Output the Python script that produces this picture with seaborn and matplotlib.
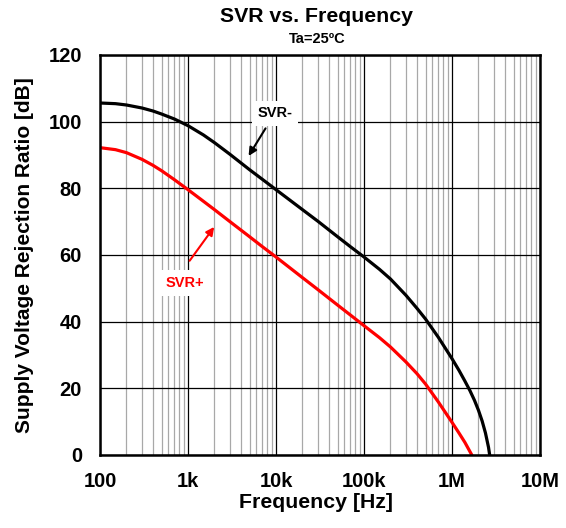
import pandas as pd
import seaborn as sns
import matplotlib.pyplot as plt
import numpy as np
from matplotlib.ticker import FixedLocator, NullFormatter

# data
svr_minus_freq = [100, 150, 200, 300, 400, 500, 700, 1e3, 1.5e3, 2e3, 3e3, 5e3, 7e3,
                  1e4, 2e4, 3e4, 5e4, 7e4, 1e5, 1.5e5, 2e5, 3e5, 4e5, 5e5, 7e5,
                  1e6, 1.2e6, 1.4e6, 1.6e6, 1.8e6, 2e6, 2.2e6, 2.4e6, 2.6e6, 2.68e6]
svr_minus_db = [105.6, 105.4, 105.0, 104.1, 103.2, 102.3, 100.8, 98.8, 96.0, 93.7, 90.2,
                85.6, 82.7, 79.6, 73.6, 70.1, 65.5, 62.5, 59.4, 55.7, 52.8, 47.9, 44.0,
                40.8, 35.3, 28.9, 25.4, 22.2, 19.3, 16.4, 13.4, 10.2, 6.6, 2.3, 0.0]
svr_plus_freq = [100, 150, 200, 300, 400, 500, 700, 1e3, 1.5e3, 2e3, 3e3, 5e3, 7e3,
                 1e4, 2e4, 3e4, 5e4, 7e4, 1e5, 1.5e5, 2e5, 3e5, 4e5, 5e5, 7e5,
                 1e6, 1.2e6, 1.4e6, 1.68e6]
svr_plus_db = [92.2, 91.6, 90.7, 88.7, 86.9, 85.3, 82.6, 79.6, 76.1, 73.6, 70.0, 65.5,
               62.5, 59.4, 53.2, 49.6, 45.0, 42.0, 38.8, 35.2, 32.4, 27.9, 24.4, 21.3,
               15.9, 9.8, 6.6, 3.8, 0.0]
x_ticks = [100, 1e3, 1e4, 1e5, 1e6, 1e7]
x_labels = ['100', '1k', '10k', '100k', '1M', '10M']
y_ticks = [0, 20, 40, 60, 80, 100, 120]

sns.set_style('white', {'text.color': 'black', 'axes.labelcolor': 'black',
                        'xtick.color': 'black', 'ytick.color': 'black'})
plt.rcParams['font.family'] = ['Liberation Sans', 'DejaVu Sans']

fig = plt.figure(figsize=(5.66, 5.28), dpi=100)
ax = fig.add_axes([100/566, 1-455/528, 440/566, 400/528])

sns.lineplot(x=svr_minus_freq, y=svr_minus_db, color='black', linewidth=2.3, ax=ax, zorder=5)
sns.lineplot(x=svr_plus_freq, y=svr_plus_db, color='#ff0000', linewidth=2.3, ax=ax, zorder=5)

ax.set_xscale('log')
ax.set_xlim(100, 1e7)
ax.set_ylim(0, 120)
ax.xaxis.set_major_locator(FixedLocator(x_ticks))
minor = [m * d for d in [100, 1e3, 1e4, 1e5, 1e6] for m in range(2, 10)]
ax.xaxis.set_minor_locator(FixedLocator(minor))
ax.xaxis.set_minor_formatter(NullFormatter())
ax.set_xticklabels(x_labels)
ax.set_yticks(y_ticks)

ax.grid(True, which='major', color='black', linewidth=0.9)
ax.grid(True, which='minor', axis='x', color='#a8a8a8', linewidth=0.9)
ax.set_axisbelow(True)
for s in ax.spines.values():
    s.set_color('black')
    s.set_linewidth(1.8)
    s.set_zorder(6)

ax.tick_params(which='both', length=0, labelsize=14.5, colors='black')
ax.tick_params(axis='x', pad=12)
ax.tick_params(axis='y', pad=13)
for lab in ax.get_xticklabels() + ax.get_yticklabels():
    lab.set_fontweight('bold')

ax.set_xlabel('Frequency [Hz]', fontsize=15.3, fontweight='bold')
ax.set_ylabel('Supply Voltage Rejection Ratio [dB]', fontsize=15, fontweight='bold')
ax.xaxis.set_label_coords((316 - 100) / 440, (455 - 503) / 400)
ax.yaxis.set_label_coords((25 - 100) / 440, 0.5)
ax.xaxis.label.set_va('center')
ax.yaxis.label.set_va('center')

fig.text(316/566, 1-17/528, 'SVR vs. Frequency', ha='center', va='center', fontsize=15.3, fontweight='bold')
fig.text(317/566, 1-39/528, 'Ta=25ºC', ha='center', va='center', fontsize=10.5, fontweight='bold')

# annotations
ax.annotate('', xy=(4.7e3, 89.0), xytext=(7.9e3, 98.7),
            arrowprops=dict(arrowstyle='-|>', color='black', lw=1.5, mutation_scale=12), zorder=7)
ax.text(9.7e3, 102.5, 'SVR-', ha='center', va='center', fontsize=10.5, fontweight='bold',
        color='black', bbox=dict(facecolor='white', edgecolor='none', pad=4), zorder=7)
ax.annotate('', xy=(2.07e3, 69.1), xytext=(1.0e3, 57.6),
            arrowprops=dict(arrowstyle='-|>', color='#ff0000', lw=1.5, mutation_scale=12), zorder=7)
ax.text(920, 51.6, 'SVR+', ha='center', va='center', fontsize=10.5, fontweight='bold',
        color='#ff0000', bbox=dict(facecolor='white', edgecolor='none', pad=4), zorder=7)

fig.savefig('out.png', dpi=100)
